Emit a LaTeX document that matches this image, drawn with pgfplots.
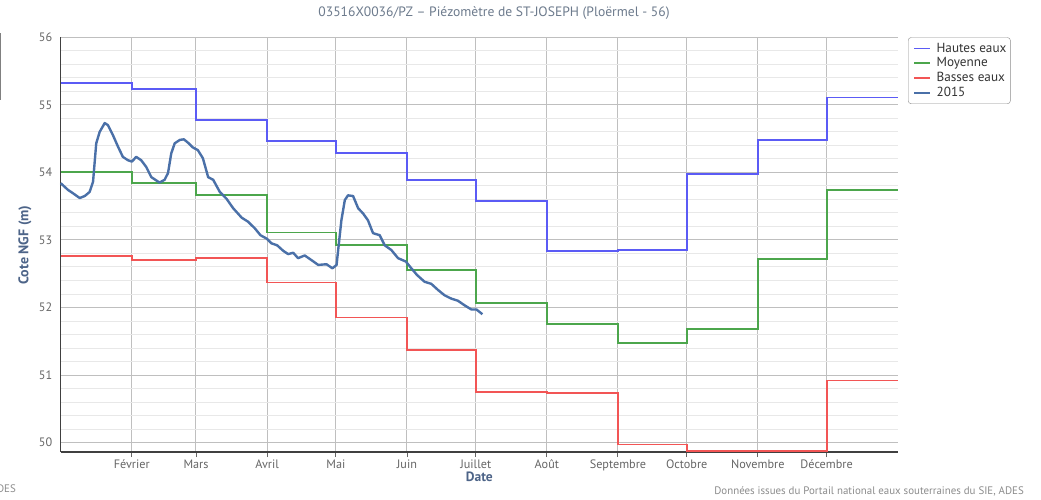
\documentclass[border=0pt]{standalone}
\usepackage{fontspec}
\setmainfont{PT Sans}
\usepackage{pgfplots}
\pgfplotsset{compat=1.18}
\definecolor{haut}{HTML}{5B5BF5}
\definecolor{moy}{HTML}{4CA64C}
\definecolor{bas}{HTML}{F25555}
\definecolor{sdeux}{HTML}{4A70A8}
\definecolor{ticklab}{HTML}{666666}
\definecolor{axtitle}{HTML}{4D6488}
\definecolor{titlec}{HTML}{6D7B8D}
\begin{document}
\begin{tikzpicture}[x=1pt,y=1pt]
\path[use as bounding box, fill=white] (0,0) rectangle (1041,499);
\begin{axis}[
 at={(60.7pt,47pt)}, anchor=south west,
 width=837pt, height=414.7pt, scale only axis,
 xmin=0, xmax=365, ymin=49.86, ymax=56,
 axis x line*=bottom, axis y line*=left,
 axis line style={-, draw=black!75, line width=1.3pt},
 xtick={31,59,90,120,151,181,212,243,273,304,334},
 xticklabels={Février,Mars,Avril,Mai,Juin,Juillet,Août,Septembre,Octobre,Novembre,Décembre},
 ytick={50,51,...,56},
 minor y tick num=4,
 xmajorgrids, ymajorgrids, yminorgrids,
 major grid style={draw=black!25, line width=1pt},
 minor grid style={draw=black!9, line width=0.9pt},
 tick align=outside, major tick length=5pt,
 xtick style={draw=black!60, line width=0.9pt},
 ytick style={draw=none}, minor tick style={draw=none},
 ticklabel style={font=\fontsize{12.2}{14}\selectfont, text=ticklab},
 xticklabel style={yshift=1pt},
 /pgf/number format/assume math mode=true,
 legend style={at={(1,1)}, anchor=north west, xshift=10.3pt, draw=black!45, rounded corners=3pt, fill=white,
   font=\fontsize{13.2}{15}\selectfont, text=black!80, inner xsep=2pt, inner ysep=3.5pt, row sep=0pt, cells={anchor=west}},
 legend image code/.code={\path (0pt,0pt) (22pt,0pt); \draw[#1, line width=1.5pt] (3pt,0pt) -- (19pt,0pt);},
 clip=false,
]
\addplot[const plot, haut, line width=1.8pt] coordinates {
(0,55.32) (31,55.24) (59,54.77) (90,54.47) (120,54.29) (151,53.89) (181,53.58) (212,52.84) (243,52.85) (273,53.98) (304,54.48) (334,55.11) (365,55.11)};
\addlegendentry{Hautes eaux}
\addplot[const plot, moy, line width=1.8pt] coordinates {
(0,54.00) (31,53.84) (59,53.67) (90,53.11) (120,52.93) (151,52.55) (181,52.07) (212,51.75) (243,51.47) (273,51.68) (304,52.72) (334,53.74) (365,53.74)};
\addlegendentry{Moyenne}
\addplot[const plot, bas, line width=1.8pt] coordinates {
(0,52.76) (31,52.70) (59,52.73) (90,52.37) (120,51.85) (151,51.37) (181,50.75) (212,50.73) (243,49.97) (273,49.87) (304,49.88) (334,50.92) (365,50.92)};
\addlegendentry{Basses eaux}
\addplot[sdeux, line width=2.4pt, line join=round] coordinates {
(0,53.84) (3.2,53.74) (5.4,53.69) (8.3,53.62) (10.5,53.65) (12.6,53.71) (14.1,53.86) (15.5,54.43) (17,54.60) (19.2,54.73) (20.6,54.70) (22.8,54.55) (25,54.38) (27.1,54.23) (29.3,54.18) (31.1,54.16) (32.9,54.23) (35.1,54.18) (37.3,54.08) (39.5,53.93) (41.7,53.88) (43.1,53.85) (45.3,53.89) (46.8,53.99) (48.2,54.28) (49.7,54.43) (51.9,54.48) (53.7,54.49) (55.5,54.44) (57.6,54.37) (59.8,54.33) (62,54.21) (64.3,53.93) (66.5,53.89) (69.4,53.71) (72.3,53.61) (75.2,53.47) (78.9,53.33) (81.7,53.27) (84.7,53.17) (87.1,53.07) (89.8,53.02) (91.9,52.95) (94.4,52.92) (97,52.84) (99.2,52.79) (101.4,52.81) (103.5,52.73) (106.4,52.77) (109.4,52.70) (112.3,52.63) (115.9,52.64) (118.5,52.58) (120.3,52.63) (122.4,53.29) (123.9,53.59) (125.3,53.66) (127.5,53.65) (129.7,53.47) (131.9,53.39) (134,53.29) (136.2,53.10) (139.1,53.07) (141.3,52.92) (144.2,52.85) (147.1,52.73) (150.5,52.68) (152.9,52.58) (155.4,52.48) (158.7,52.38) (161.6,52.35) (164.5,52.26) (167.4,52.18) (170.4,52.13) (173.2,52.10) (176.2,52.03) (179.1,51.97) (181.3,51.97) (183.9,51.90)};
\addlegendentry{2015}
\end{axis}
\node[font=\fontsize{13.6}{15}\selectfont, text=titlec] at (494,486) {03516X0036/PZ -- Piézomètre de ST-JOSEPH (Ploërmel - 56)};
\node[font=\bfseries\fontsize{13.5}{15}\selectfont, text=axtitle] at (479.3,22.3) {Date};
\node[font=\bfseries\fontsize{14}{16}\selectfont, text=axtitle, rotate=90] at (25,254) {Cote NGF (m)};
\node[anchor=east, inner sep=0pt, font=\fontsize{10.9}{12}\selectfont, text=black!45] at (1024,8) {Données issues du Portail national eaux souterraines du SIE, ADES};
\node[anchor=east, inner sep=0pt, font=\fontsize{10.9}{12}\selectfont, text=black!45] at (16,10) {ADES};
\draw[black!50, line width=1.5pt] (0.7,399) -- (0.7,466);
\end{tikzpicture}
\end{document}
